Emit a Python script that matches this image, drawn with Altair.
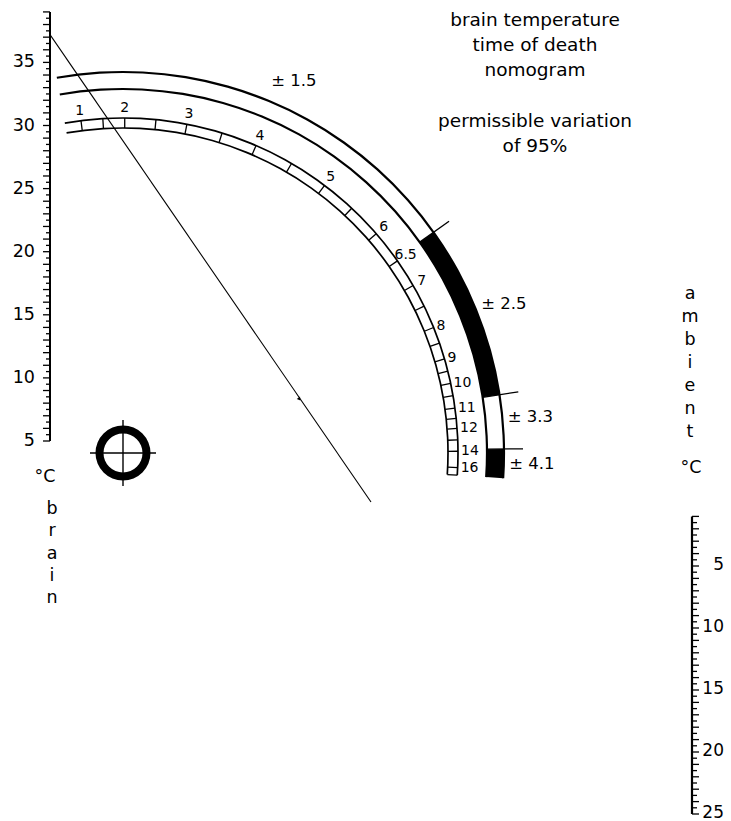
import numpy as np
import pandas as pd
import altair as alt

# ---------------- data ----------------
brain_label_values = [5, 10, 15, 20, 25, 30, 35]
brain_range = [5, 39]
ambient_label_values = [5, 10, 15, 20, 25]
ambient_range = [1, 25]

hours = ["1", "2", "3", "4", "5", "6", "6.5", "7", "8", "9", "10", "11", "12", "14", "16"]
hour_angles = [-7.2, 0.3, 11.0, 23.4, 37.0, 49.1, 55.0, 60.0, 68.0, 73.7, 78.0, 82.3, 85.8, 89.7, 92.5]
minor_hours = [1.5, 2.5, 3.5, 4.5, 5.5, 7.5, 8.5, 9.5, 10.5, 11.5, 13]
scale_start, scale_end = -10.0, 93.8

band_limits = [-10.0, 54.6, 81.2, 89.4, 93.8]
band_black = [False, True, False, True]
band_labels = ["± 1.5", "± 2.5", "± 3.3", "± 4.1"]
band_label_angles = [24.7, 68.6, 84.9, 91.5]

title_lines = ["brain temperature", "time of death", "nomogram", "", "permissible variation", "of 95%"]
brain_word = ["b", "r", "a", "i", "n"]
ambient_word = ["a", "m", "b", "i", "e", "n", "t"]
example_brain_temp = 37.2

# ---------------- geometry ----------------
W, H = 731, 821
CX, CY = 123, 453
R_OUT, R_MID, R_SC_OUT, R_SC_IN = 381, 364, 335, 325
BX = 50
AX = 692
FONT = "DejaVu Sans"


def brain_y(t):
    return 441 - (np.asarray(t, dtype=float) - 5) * 12.62


def amb_y(t):
    return 566 + (np.asarray(t, dtype=float) - 5) * 12.4


def polar(r, deg):
    a = np.radians(np.asarray(deg, dtype=float))
    return CX + r * np.sin(a), CY - r * np.cos(a)


hour_num = [float(h) for h in hours]


def hour_angle(h):
    return float(np.interp(h, hour_num, hour_angles))


xs = alt.Scale(domain=[0, W], nice=False, zero=False)
ys = alt.Scale(domain=[0, H], nice=False, zero=False, reverse=True)

# ---------------- arcs ----------------
arc_rows = []
for r, w in [(R_OUT, 2.2), (R_MID, 2.2), (R_SC_OUT, 1.7), (R_SC_IN, 1.7)]:
    arc_rows.append(dict(r0=r - w / 2, r1=r + w / 2, t0=np.radians(scale_start), t1=np.radians(scale_end)))
for i, blk in enumerate(band_black):
    if blk:
        arc_rows.append(dict(r0=R_MID, r1=R_OUT, t0=np.radians(band_limits[i]), t1=np.radians(band_limits[i + 1])))
arc_rows.append(dict(r0=19.5, r1=27.5, t0=0.0, t1=2 * np.pi))
arcs = pd.DataFrame(arc_rows)
arcs["cx"] = CX
arcs["cy"] = CY

arc_layer = alt.Chart(arcs).mark_arc(color="black", stroke=None).encode(
    x=alt.X("cx:Q", scale=xs, axis=None),
    y=alt.Y("cy:Q", scale=ys, axis=None),
    theta=alt.Theta("t0:Q", scale=None, stack=False),
    theta2="t1:Q",
    radius=alt.Radius("r0:Q", scale=None),
    radius2="r1:Q",
)

# ---------------- rules ----------------
rules = []
# brain axis
rules.append(dict(x=BX, y=brain_y(brain_range[0]), x2=BX, y2=brain_y(brain_range[1]), w=2.0))
for t in np.arange(brain_range[0], brain_range[1] + 0.01, 0.5):
    L = 7 if abs(t - round(t)) < 1e-6 else 4
    rules.append(dict(x=BX - L, y=brain_y(t), x2=BX, y2=brain_y(t), w=1.3))
# ambient axis
rules.append(dict(x=AX, y=amb_y(ambient_range[0]), x2=AX, y2=amb_y(ambient_range[1]), w=2.2))
for t in np.arange(ambient_range[0], ambient_range[1] + 0.01, 0.5):
    L = 7 if abs(t - round(t)) < 1e-6 else 5
    rules.append(dict(x=AX, y=amb_y(t), x2=AX + L, y2=amb_y(t), w=1.3))
# hour scale ticks
for a in hour_angles + [hour_angle(h) for h in minor_hours] + [scale_end]:
    x0, y0 = polar(R_SC_IN, a)
    x1, y1 = polar(R_SC_OUT, a)
    rules.append(dict(x=x0, y=y0, x2=x1, y2=y1, w=1.3))
# band boundary ticks
for a in band_limits[1:-1]:
    x0, y0 = polar(R_MID, a)
    x1, y1 = polar(400, a)
    rules.append(dict(x=x0, y=y0, x2=x1, y2=y1, w=1.3))
# crosshair
rules.append(dict(x=CX - 33, y=CY, x2=CX + 33, y2=CY, w=1.4))
rules.append(dict(x=CX, y=CY - 33, x2=CX, y2=CY + 33, w=1.4))
# example reading line
ex0, ey0 = BX, float(brain_y(example_brain_temp))
ex1, ey1 = 371, 502
rules.append(dict(x=ex0, y=ey0, x2=ex1, y2=ey1, w=1.1))
rules_df = pd.DataFrame(rules).astype(float)

rule_layer = alt.Chart(rules_df).mark_rule(color="black").encode(
    x=alt.X("x:Q", scale=xs, axis=None),
    y=alt.Y("y:Q", scale=ys, axis=None),
    x2="x2:Q",
    y2="y2:Q",
    strokeWidth=alt.StrokeWidth("w:Q", scale=None),
)

# arrow mark on example line
fr = 0.78
marker = pd.DataFrame([dict(x=ex0 + fr * (ex1 - ex0) - 1, y=ey0 + fr * (ey1 - ey0))])
marker_layer = alt.Chart(marker).mark_point(
    shape="triangle-down", filled=True, color="black", size=16, angle=325, opacity=1
).encode(x=alt.X("x:Q", scale=xs, axis=None), y=alt.Y("y:Q", scale=ys, axis=None))

# ---------------- texts ----------------
center_mid, left_mid, right_mid, center_alpha = [], [], [], []
for t in brain_label_values:
    right_mid.append(dict(x=35, y=float(brain_y(t)), text=str(t), s=17.5))
for t in ambient_label_values:
    right_mid.append(dict(x=724, y=float(amb_y(t)) - 1.5, text=str(t), s=17))
for h, a in zip(hours, hour_angles):
    if a >= 65:
        x, y = polar(338, a)
        left_mid.append(dict(x=float(x), y=float(y), text=h, s=14))
    else:
        x, y = polar(345, a)
        center_mid.append(dict(x=float(x), y=float(y), text=h, s=14))
for lab, a in zip(band_labels, band_label_angles):
    x, y = polar(409, a)
    center_mid.append(dict(x=float(x), y=float(y), text=lab, s=16.5))
for i, line in enumerate(title_lines):
    if line:
        center_alpha.append(dict(x=535, y=26 + 25.2 * i, text=line, s=18.5))
center_alpha.append(dict(x=45, y=482, text="°C", s=17.5))
for i, ch in enumerate(brain_word):
    center_alpha.append(dict(x=52, y=514 + 22.3 * i, text=ch, s=17.5))
for i, ch in enumerate(ambient_word):
    center_alpha.append(dict(x=690, y=299 + 23 * i, text=ch, s=17.5))
center_alpha.append(dict(x=691, y=473, text="°C", s=17.5))


def text_layer(rows, align, baseline):
    df = pd.DataFrame(rows)
    return alt.Chart(df).mark_text(align=align, baseline=baseline, font=FONT, color="black").encode(
        x=alt.X("x:Q", scale=xs, axis=None),
        y=alt.Y("y:Q", scale=ys, axis=None),
        text="text:N",
        size=alt.Size("s:Q", scale=None),
    )


chart = alt.layer(
    arc_layer,
    rule_layer,
    marker_layer,
    text_layer(center_mid, "center", "middle"),
    text_layer(left_mid, "left", "middle"),
    text_layer(right_mid, "right", "middle"),
    text_layer(center_alpha, "center", "alphabetic"),
).properties(
    width=W, height=H, padding=0, autosize=alt.AutoSizeParams(type="none"), background="white"
).configure_view(stroke=None)

chart.save("out.html", embed_options={"renderer": "svg", "actions": False})
